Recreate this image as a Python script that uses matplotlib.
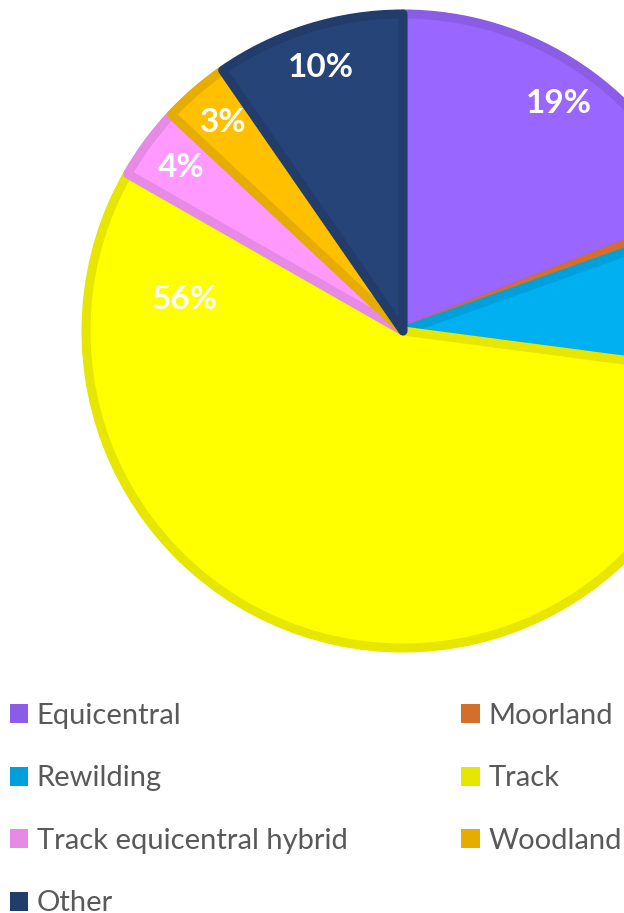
import matplotlib.pyplot as plt
from matplotlib.patches import Patch

# share of each category (percent)
categories = ["Equicentral", "Moorland", "Rewilding", "Track",
              "Track equicentral hybrid", "Woodland", "Other"]
shares = [19.0, 0.5, 7.5, 56.0, 3.7, 3.4, 9.6]

fill_colors = ["#9966FF", "#E07028", "#00B0F0", "#FFFF00",
               "#FF99FF", "#FFC000", "#264478"]
edge_colors = ["#8B5CE6", "#D36F2B", "#00A0DC", "#E6E600",
               "#E68AE6", "#E6AC00", "#223D6C"]

plt.rcParams["font.family"] = ["Lato", "DejaVu Sans"]

W, H = 624, 913
fig = plt.figure(figsize=(W / 100, H / 100), dpi=100)

# pie centre at (403, 331) px, radius ~317 px
cx, cy, r = 403, 331, 317
ax = fig.add_axes([(cx - r) / W, (H - cy - r) / H, 2 * r / W, 2 * r / H])

wedges, texts, autotexts = ax.pie(
    shares, colors=fill_colors, startangle=90, counterclock=False,
    autopct="%.0f%%", pctdistance=0.87,
    wedgeprops=dict(linewidth=6.5, joinstyle="round"),
    textprops=dict(color="white", fontsize=24, fontweight="bold"),
)
for w, ec in zip(wedges, edge_colors):
    w.set_edgecolor(ec)

# Excel's best-fit put the Track label up on the left side
autotexts[3].set_position((-0.69, 0.10))
# Moorland / Rewilding labels sit beyond the cropped right edge
autotexts[1].set_visible(False)
autotexts[2].set_visible(False)

ax.set_xlim(-1, 1)
ax.set_ylim(-1, 1)
ax.set_aspect("equal")
ax.axis("off")

# legend fills column first, so reorder to read row by row
order = [0, 2, 4, 6, 1, 3, 5]
handles = [Patch(facecolor=edge_colors[i], edgecolor="none") for i in order]
labels = [categories[i] for i in order]
fig.legend(handles, labels, ncol=2, loc="upper left",
           bbox_to_anchor=(10 / W, 1 - 703 / H), frameon=False,
           fontsize=21, labelcolor="#595959",
           handlelength=0.62, handleheight=0.62, handletextpad=0.3,
           labelspacing=1.25, columnspacing=3.9,
           borderpad=0, borderaxespad=0)

fig.savefig("out.png", dpi=100)
